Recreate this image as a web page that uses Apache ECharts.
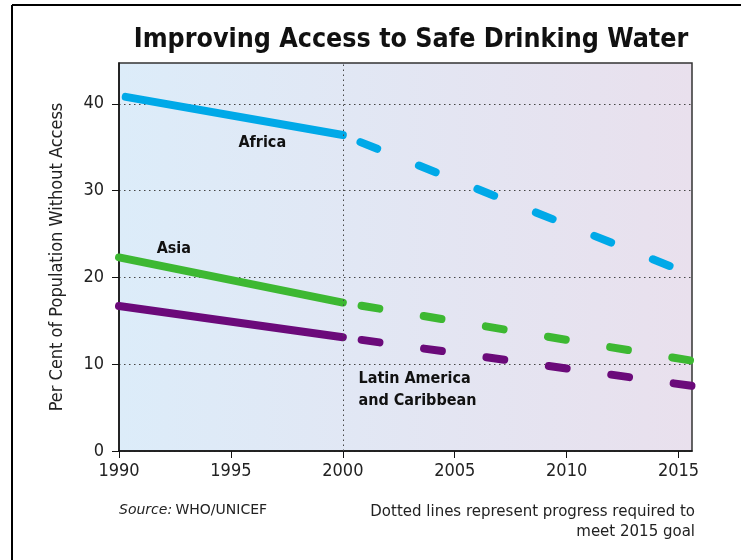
<!DOCTYPE html>
<html>
<head>
<meta charset="utf-8">
<script src="https://cdn.jsdelivr.net/npm/echarts@6/dist/echarts.min.js"></script>
<style>
html, body { margin: 0; padding: 0; background: #fff; }
#chart { width: 741px; height: 560px; }
</style>
</head>
<body>
<div id="chart"></div>
<script>
// axis ticks
const yearTicks = [1990, 1995, 2000, 2005, 2010, 2015];
const valueTicks = [0, 10, 20, 30, 40];

// [year, % without access] - solid = actual, dashed = required progress
const africaActual = [[1990.3, 40.8], [2000, 36.4]];
const africaGoal = [[2000, 36.4], [2015, 20.9]];
const asiaActual = [[1990, 22.3], [2000, 17.1]];
const asiaGoal = [[2000, 17.1], [2015.6, 10.4]];
const latamActual = [[1990, 16.7], [2000, 13.1]];
const latamGoal = [[2000, 13.1], [2015.6, 7.5]];

const FONT = "'DejaVu Sans Condensed', 'DejaVu Sans', sans-serif";
const NOTE_FONT = "'DejaVu Sans', sans-serif";
const chart = echarts.init(document.getElementById('chart'));

function solid(name, data, color) {
    return {
        name: name,
        type: 'line',
        data: data,
        symbol: 'none',
        clip: false,
        lineStyle: { color: color, width: 8, cap: 'round' }
    };
}
function dashed(name, data, color) {
    return {
        name: name,
        type: 'line',
        data: data,
        symbol: 'none',
        clip: true,
        lineStyle: { color: color, width: 8, cap: 'round', type: [18, 45], dashOffset: 44 }
    };
}

const option = {
    animation: false,
    title: {
        text: 'Improving Access to Safe Drinking Water',
        left: 406,
        textAlign: 'center',
        top: 22,
        textStyle: { fontFamily: FONT, fontSize: 26.6, fontWeight: 'bold', color: '#111' }
    },
    grid: {
        left: 119, right: 49, top: 63, bottom: 109,
        show: true,
        borderColor: '#333',
        borderWidth: 1.5,
        backgroundColor: {
            type: 'linear', x: 0, y: 0, x2: 1, y2: 0,
            colorStops: [
                { offset: 0, color: '#dcecf9' },
                { offset: 1, color: '#e9e0ed' }
            ]
        }
    },
    xAxis: {
        type: 'value',
        min: 1990,
        max: 2015.6,
        interval: 5,
        axisLine: { lineStyle: { color: '#111', width: 1.5 } },
        axisTick: { customValues: yearTicks, length: 7, lineStyle: { color: '#111' } },
        axisLabel: {
            customValues: yearTicks,
            formatter: v => String(v),
            color: '#222', fontFamily: FONT, fontSize: 18, margin: 11
        },
        splitLine: { show: false }
    },
    yAxis: {
        type: 'value',
        min: 0,
        max: 44.7,
        interval: 10,
        name: 'Per Cent of Population Without Access',
        nameLocation: 'middle',
        nameGap: 53,
        nameTextStyle: { fontFamily: FONT, fontSize: 18, color: '#222' },
        axisLine: { show: true, lineStyle: { color: '#111', width: 1.5 } },
        axisTick: { show: true, customValues: valueTicks, length: 7, lineStyle: { color: '#111' } },
        axisLabel: { customValues: valueTicks, color: '#222', fontFamily: FONT, fontSize: 18, margin: 15 },
        splitLine: { show: true, lineStyle: { color: '#444', width: 1, type: [1.5, 3.5] } }
    },
    series: [
        solid('Africa', africaActual, '#00a9e8'),
        dashed('Africa goal', africaGoal, '#00a9e8'),
        solid('Asia', asiaActual, '#3db832'),
        dashed('Asia goal', asiaGoal, '#3db832'),
        solid('Latin America and Caribbean', latamActual, '#6b0a7a'),
        dashed('Latin America goal', latamGoal, '#6b0a7a'),
        {
            type: 'line',
            data: [],
            z: 1,
            markLine: {
                silent: true,
                symbol: 'none',
                label: { show: false },
                lineStyle: { color: '#444', width: 1, type: [1.5, 3.5] },
                data: [{ xAxis: 2000 }]
            }
        }
    ]
};
chart.setOption(option);

// series labels placed in data coordinates
function labelAt(text, pos, align) {
    const p = chart.convertToPixel({ gridIndex: 0 }, pos);
    return {
        type: 'text',
        x: p[0], y: p[1],
        style: {
            text: text,
            fill: '#111',
            font: 'bold 16px ' + FONT,
            align: align,
            verticalAlign: 'middle',
            lineHeight: 22
        }
    };
}

chart.setOption({
    graphic: [
        labelAt('Africa', [1996.4, 35.5], 'center'),
        labelAt('Asia', [1992.45, 23.3], 'center'),
        labelAt('Latin America\nand Caribbean', [2000.7, 7.1], 'left'),
        {
            type: 'text', x: 119, y: 503,
            style: {
                rich: {
                    i: { fontStyle: 'italic', fontFamily: NOTE_FONT, fontSize: 14, fill: '#222' },
                    n: { fontFamily: NOTE_FONT, fontSize: 14, fill: '#222' }
                },
                text: '{i|Source:} {n|WHO/UNICEF}'
            }
        },
        {
            type: 'text', x: 695, y: 502,
            style: {
                text: 'Dotted lines represent progress required to\nmeet 2015 goal',
                align: 'right', font: '15px ' + NOTE_FONT, fill: '#222', lineHeight: 20
            }
        },
        { type: 'line', shape: { x1: 12, y1: 5, x2: 741, y2: 5 }, style: { stroke: '#000', lineWidth: 2 } },
        { type: 'line', shape: { x1: 12, y1: 5, x2: 12, y2: 560 }, style: { stroke: '#000', lineWidth: 2 } }
    ]
});
</script>
</body>
</html>
